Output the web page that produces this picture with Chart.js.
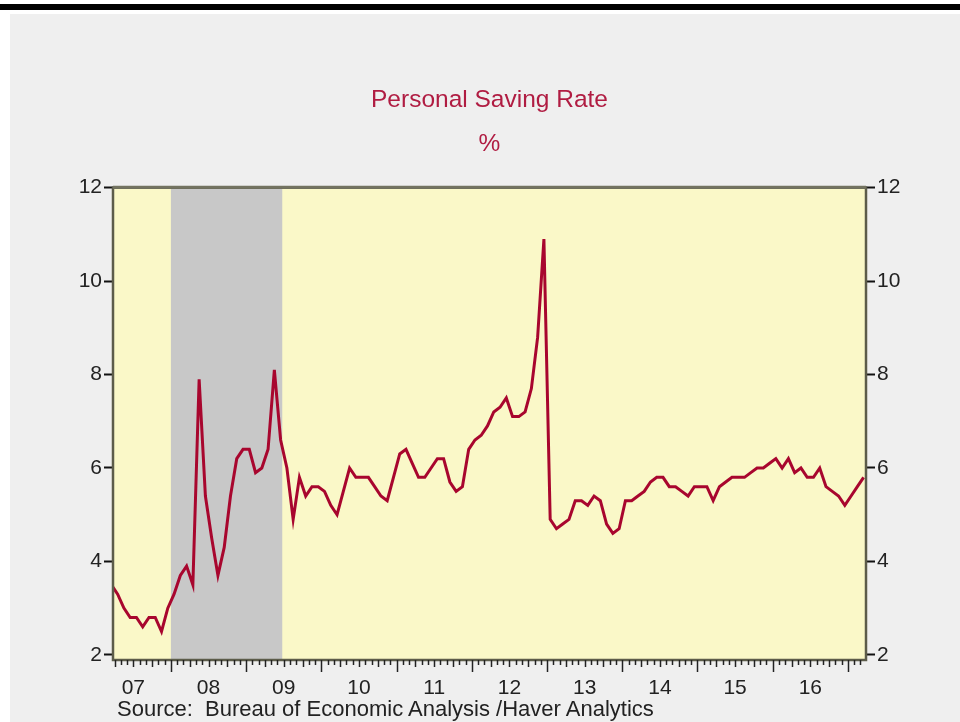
<!DOCTYPE html>
<html>
<head>
<meta charset="utf-8">
<script src="https://cdn.jsdelivr.net/npm/chart.js@4/dist/chart.umd.min.js"></script>
<style>
  html, body { margin: 0; padding: 0; background: #fff; }
  #page { position: relative; width: 960px; height: 722px; overflow: hidden; background: #fff; }
  #bar { position: absolute; left: 0; top: 4px; width: 960px; height: 6px; background: #000; }
  #panel { position: absolute; left: 10px; top: 14px; right: 0; bottom: 0; background: #efefef; }
  canvas { position: absolute; left: 0; top: 0; }
  #source { position: absolute; left: 117px; top: 696px; font: 22px "Liberation Sans", Arial, sans-serif; color: #222; white-space: pre; }
</style>
</head>
<body>
<div id="page">
  <div id="bar"></div>
  <div id="panel"></div>
  <canvas id="chart" width="960" height="722"></canvas>
  <div id="source">Source:  Bureau of Economic Analysis /Haver Analytics</div>
</div>
<script>
// monthly personal saving rate, %, starting March 2007
const startYear = 2007;
const startMonth = 3;
const savingRate = [
  3.5, 3.3, 3.0, 2.8, 2.8, 2.6, 2.8, 2.8, 2.5, 3.0,              // 2007 Mar-Dec
  3.3, 3.7, 3.9, 3.5, 7.9, 5.4, 4.5, 3.7, 4.3, 5.4, 6.2, 6.4,    // 2008
  6.4, 5.9, 6.0, 6.4, 8.1, 6.6, 6.0, 4.9, 5.8, 5.4, 5.6, 5.6,    // 2009
  5.5, 5.2, 5.0, 5.5, 6.0, 5.8, 5.8, 5.8, 5.6, 5.4, 5.3, 5.8,    // 2010
  6.3, 6.4, 6.1, 5.8, 5.8, 6.0, 6.2, 6.2, 5.7, 5.5, 5.6, 6.4,    // 2011
  6.6, 6.7, 6.9, 7.2, 7.3, 7.5, 7.1, 7.1, 7.2, 7.7, 8.8, 10.9,   // 2012
  4.9, 4.7, 4.8, 4.9, 5.3, 5.3, 5.2, 5.4, 5.3, 4.8, 4.6, 4.7,    // 2013
  5.3, 5.3, 5.4, 5.5, 5.7, 5.8, 5.8, 5.6, 5.6, 5.5, 5.4, 5.6,    // 2014
  5.6, 5.6, 5.3, 5.6, 5.7, 5.8, 5.8, 5.8, 5.9, 6.0, 6.0, 6.1,    // 2015
  6.2, 6.0, 6.2, 5.9, 6.0, 5.8, 5.8, 6.0, 5.6, 5.5, 5.4, 5.2,    // 2016
  5.4, 5.6, 5.8                                                  // 2017 Jan-Mar
];

const yearLabels = ["07", "08", "09", "10", "11", "12", "13", "14", "15", "16"];
const yTickValues = [2, 4, 6, 8, 10, 12];
const recession = [2008.0, 2009.48]; // Dec 2007 - Jun 2009 shading

const points = savingRate.map((v, i) => ({
  x: startYear + (startMonth - 1 + i + 0.5) / 12,
  y: v
}));

const xMin = 2007.23, xMax = 2017.24;
const yMin = 1.89, yMax = 12;

const bgPlugin = {
  id: "bg",
  beforeDatasetsDraw(chart) {
    const { ctx, chartArea: a, scales } = chart;
    ctx.save();
    ctx.fillStyle = "#faf8c8";
    ctx.fillRect(a.left, a.top, a.right - a.left, a.bottom - a.top);
    const x0 = scales.x.getPixelForValue(recession[0]);
    const x1 = scales.x.getPixelForValue(recession[1]);
    ctx.fillStyle = "#c8c8c8";
    ctx.fillRect(x0, a.top, x1 - x0, a.bottom - a.top);
    ctx.restore();
  },
  afterDraw(chart) {
    const { ctx, chartArea: a, scales } = chart;
    ctx.save();
    // frame
    ctx.strokeStyle = "#5c5c4a";
    ctx.lineWidth = 2.5;
    ctx.strokeRect(a.left, a.top, a.right - a.left, a.bottom - a.top);
    ctx.strokeStyle = "#737360";
    ctx.lineWidth = 3;
    ctx.beginPath();
    ctx.moveTo(a.left, a.top - 0.5);
    ctx.lineTo(a.right, a.top - 0.5);
    ctx.stroke();
    // month / quarter / year tick marks on the time axis
    ctx.strokeStyle = "#222";
    ctx.lineWidth = 1.5;
    const k0 = Math.ceil(xMin * 12), k1 = Math.floor(xMax * 12);
    for (let k = k0; k <= k1; k++) {
      const m = k % 12;
      const len = m === 0 ? 12 : (m % 3 === 0 ? 7 : 5);
      const px = Math.round(scales.x.getPixelForValue(k / 12)) + 0.5;
      ctx.beginPath();
      ctx.moveTo(px, a.bottom);
      ctx.lineTo(px, a.bottom + len);
      ctx.stroke();
    }
    ctx.restore();
  }
};

Chart.defaults.font.family = '"Liberation Sans", Arial, sans-serif';
Chart.defaults.font.size = 22;
Chart.defaults.color = "#222";

const yAxis = (pos, width) => ({
  type: "linear",
  position: pos,
  min: yMin,
  max: yMax,
  afterBuildTicks: (axis) => { axis.ticks = yTickValues.map(v => ({ value: v })); },
  afterFit: (axis) => { axis.width = width; },
  grid: { drawOnChartArea: false, drawTicks: true, tickLength: 9, tickWidth: 2, color: "#111" },
  border: { display: false },
  ticks: { padding: 2, color: "#222", font: { size: 21 } }
});

new Chart(document.getElementById("chart"), {
  type: "line",
  data: {
    datasets: [{
      label: "Personal Saving Rate",
      data: points,
      borderColor: "#a8062e",
      borderWidth: 3,
      pointRadius: 0,
      tension: 0,
      clip: 0
    }]
  },
  options: {
    responsive: false,
    animation: false,
    events: [],
    layout: { padding: 0 },
    scales: {
      x: {
        type: "linear",
        min: xMin,
        max: xMax,
        afterBuildTicks: (axis) => {
          axis.ticks = yearLabels.map((_, i) => ({ value: 2007.5 + i }));
        },
        afterFit: (axis) => { axis.height = 62; },
        grid: { display: false, drawTicks: false },
        border: { display: false },
        ticks: {
          padding: 16,
          autoSkip: false,
          maxRotation: 0,
          color: "#222",
          font: { size: 21 },
          callback: (v, i) => yearLabels[i]
        }
      },
      y: yAxis("left", 113),
      y2: yAxis("right", 94)
    },
    plugins: {
      legend: { display: false },
      tooltip: { enabled: false },
      title: {
        display: true,
        fullSize: false,
        text: "Personal Saving Rate",
        color: "#b01c42",
        font: { size: 24.5, weight: "normal" },
        padding: { top: 86, bottom: 14.6 }
      },
      subtitle: {
        display: true,
        fullSize: false,
        text: "%",
        color: "#b01c42",
        font: { size: 24.5, weight: "normal" },
        padding: { top: 0, bottom: 28.3 }
      }
    }
  },
  plugins: [bgPlugin]
});
</script>
</body>
</html>
